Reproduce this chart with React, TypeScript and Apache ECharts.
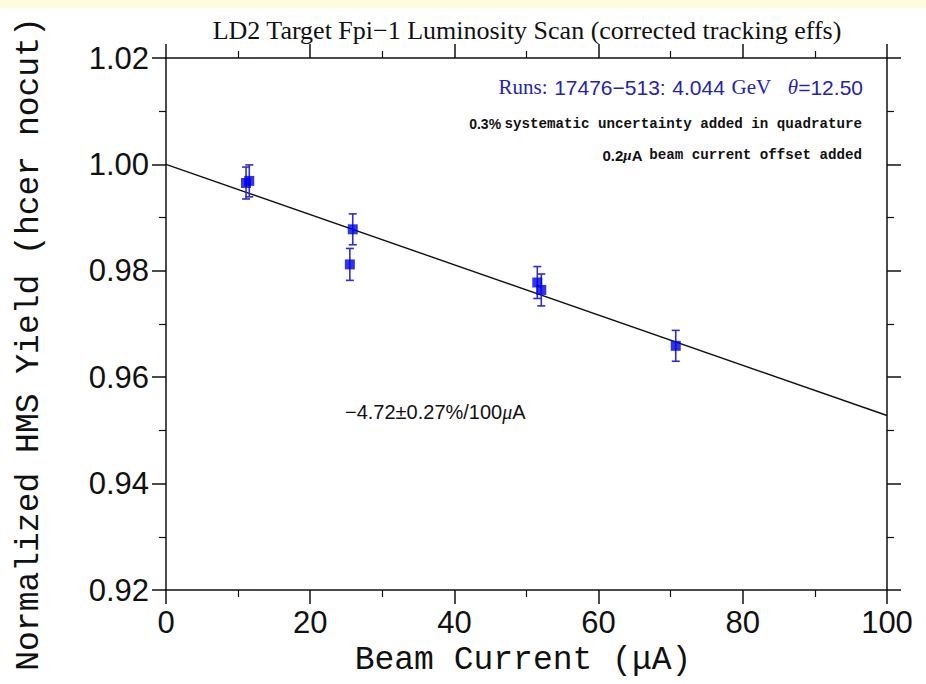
import React, { useEffect, useRef } from "react";
import * as echarts from "echarts";

// Beam current (µA) for each run
const beamCurrent = [11.1, 11.55, 25.5, 25.9, 51.5, 52.05, 70.7];
// Normalized HMS yield
const yieldValues = [0.9965, 0.9969, 0.9812, 0.9878, 0.9778, 0.9764, 0.9659];
// Yield uncertainties
const yieldErrors = [0.003, 0.003, 0.003, 0.0029, 0.003, 0.003, 0.0029];
// Linear fit (intercept 1.000, slope -4.72%/100µA)
const fitX = [0, 100];
const fitY = [1.0, 0.9528];

const titleText = "LD2 Target Fpi\u22121 Luminosity Scan (corrected tracking effs)";
const xTitle = "Beam Current (\u03bcA)";
const yTitle = "Normalized HMS Yield (hcer nocut)";

const AXIS_COLOR = "#111";
const MONO = "'Liberation Mono', 'DejaVu Sans Mono', monospace";
const SANS = "'Liberation Sans', Arial, sans-serif";
const SERIF = "'Liberation Serif', 'Times New Roman', serif";

export default function App() {
  const ref = useRef<HTMLDivElement>(null);

  useEffect(() => {
    if (!ref.current) return;
    const chart = echarts.init(ref.current, undefined, { renderer: "svg" });

    const axisCommon = {
      type: "value" as const,
      axisLine: { show: true, onZero: false, lineStyle: { color: AXIS_COLOR, width: 1.5 } },
      axisTick: { show: true, inside: false, length: 14, lineStyle: { color: AXIS_COLOR, width: 1.5 } },
      minorTick: { show: true, splitNumber: 2, length: 7, lineStyle: { color: AXIS_COLOR, width: 1.2 } },
      splitLine: { show: false },
      minorSplitLine: { show: false },
    };

    const option: any = {
      animation: false,
      backgroundColor: "#ffffff",
      grid: { left: 166, top: 58, width: 721, height: 532, containLabel: false },
      xAxis: [
        {
          ...axisCommon,
          position: "bottom",
          min: 0,
          max: 100,
          interval: 20,
          axisLabel: { show: true, margin: 17, color: AXIS_COLOR, fontSize: 31, fontFamily: SANS },
        },
        {
          ...axisCommon,
          position: "top",
          min: 0,
          max: 100,
          interval: 20,
          axisLabel: { show: false },
        },
      ],
      yAxis: [
        {
          ...axisCommon,
          position: "left",
          min: 0.92,
          max: 1.02,
          interval: 0.02,
          axisLabel: {
            show: true,
            margin: 17,
            color: AXIS_COLOR,
            fontSize: 31,
            fontFamily: SANS,
            formatter: (v: number) => v.toFixed(2),
          },
        },
        {
          ...axisCommon,
          position: "right",
          min: 0.92,
          max: 1.02,
          interval: 0.02,
          axisLabel: { show: false },
        },
      ],
      series: [
        {
          type: "line",
          data: fitX.map((x, i) => [x, fitY[i]]),
          symbol: "none",
          lineStyle: { color: "#111", width: 1.4 },
          silent: true,
          z: 2,
        },
        {
          type: "custom",
          data: beamCurrent.map((x, i) => [x, yieldValues[i], yieldErrors[i]]),
          encode: { x: 0, y: 1 },
          renderItem: (params: any, api: any) => {
            const x = api.value(0);
            const y = api.value(1);
            const e = api.value(2);
            const top = api.coord([x, y + e]);
            const bot = api.coord([x, y - e]);
            const hw = 4;
            const style = { stroke: "#2e2ecc", lineWidth: 1.6 };
            return {
              type: "group",
              children: [
                { type: "line", shape: { x1: top[0], y1: top[1], x2: bot[0], y2: bot[1] }, style },
                { type: "line", shape: { x1: top[0] - hw, y1: top[1], x2: top[0] + hw, y2: top[1] }, style },
                { type: "line", shape: { x1: bot[0] - hw, y1: bot[1], x2: bot[0] + hw, y2: bot[1] }, style },
              ],
            };
          },
          z: 3,
        },
        {
          type: "scatter",
          data: beamCurrent.map((x, i) => [x, yieldValues[i]]),
          symbol: "rect",
          symbolSize: 10,
          itemStyle: { color: "#0000e6" },
          z: 4,
        },
      ],
      graphic: [
        { type: "rect", left: 0, top: 0, shape: { width: 926, height: 8 }, style: { fill: "#fffbdc" }, silent: true },
        {
          type: "text",
          x: 527,
          y: 30,
          style: { text: titleText, font: `26px ${SERIF}`, fill: "#111", align: "center", verticalAlign: "middle" },
        },
        {
          type: "text",
          x: 523,
          y: 660,
          style: { text: xTitle, font: `33px ${MONO}`, fill: "#111", align: "center", verticalAlign: "middle" },
        },
        {
          type: "text",
          x: 29,
          y: 344,
          rotation: Math.PI / 2,
          style: { text: yTitle, font: `33px ${MONO}`, fill: "#111", align: "center", verticalAlign: "middle" },
        },
        {
          type: "text",
          x: 863,
          y: 87,
          style: {
            text: "{s|Runs:}  {n|17476\u2212513:}  {n|4.044}  {s|GeV}     {i|\u03b8}{n|=12.50}",
            align: "right",
            verticalAlign: "middle",
            rich: {
              s: { font: `21px ${SERIF}`, fill: "#2424b0" },
              n: { font: `21px ${SANS}`, fill: "#2424b0" },
              i: { font: `italic 21px ${SERIF}`, fill: "#2424b0" },
            },
          },
        },
        {
          type: "text",
          x: 862,
          y: 124,
          style: {
            text: "{n|0.3%} {m|systematic uncertainty added in quadrature}",
            align: "right",
            verticalAlign: "middle",
            rich: {
              n: { font: `bold 14px ${SANS}`, fill: "#111" },
              m: { font: `bold 14.2px ${MONO}`, fill: "#111" },
            },
          },
        },
        {
          type: "text",
          x: 862,
          y: 155,
          style: {
            text: "{n|0.2}{i|\u03bc}{n|A}  {m|beam current offset added}",
            align: "right",
            verticalAlign: "middle",
            rich: {
              n: { font: `bold 15px ${SANS}`, fill: "#111" },
              i: { font: `italic bold 15px ${SERIF}`, fill: "#111" },
              m: { font: `bold 14.2px ${MONO}`, fill: "#111" },
            },
          },
        },
        {
          type: "text",
          x: 345,
          y: 412,
          style: {
            text: "{n|\u22124.72\u00b10.27%/100}{i|\u03bc}{n|A}",
            align: "left",
            verticalAlign: "middle",
            rich: {
              n: { font: `20px ${SANS}`, fill: "#111" },
              i: { font: `italic 20px ${SERIF}`, fill: "#111" },
            },
          },
        },
      ],
    };

    chart.setOption(option);
    return () => chart.dispose();
  }, []);

  return (
    <div
      ref={ref}
      style={{ position: "fixed", left: 0, top: 0, width: 926, height: 684 }}
    />
  );
}
